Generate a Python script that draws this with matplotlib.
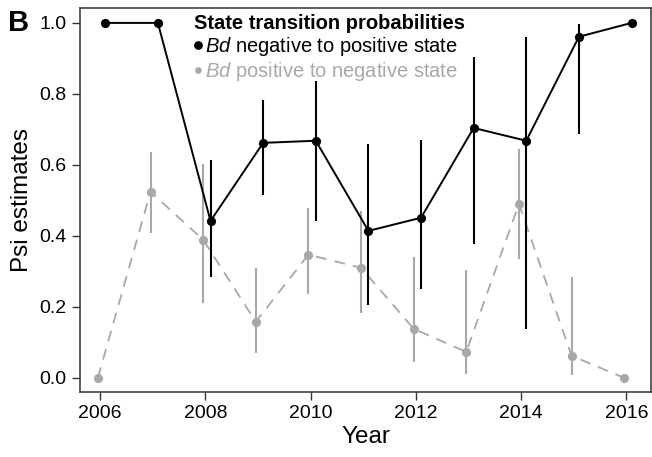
import matplotlib

matplotlib.use("Agg")
import matplotlib.pyplot as plt  # noqa: E402
import numpy as np  # noqa: E402
from matplotlib.lines import Line2D  # noqa: E402

plt.rcParams["font.family"] = ["Liberation Sans", "DejaVu Sans"]
plt.rcParams["mathtext.fontset"] = "custom"
plt.rcParams["mathtext.it"] = "Liberation Sans:italic"
plt.rcParams["mathtext.rm"] = "Liberation Sans"

years = np.arange(2006, 2017)

# Bd negative -> positive (psi estimate with 95% CI)
neg_pos = [1.0, 1.0, 0.442, 0.662, 0.668, 0.414, 0.451, 0.704, 0.668, 0.961, 1.0]
neg_pos_lo = [np.nan, np.nan, 0.285, 0.515, 0.442, 0.206, 0.250, 0.377, 0.138, 0.687, np.nan]
neg_pos_hi = [np.nan, np.nan, 0.614, 0.783, 0.837, 0.659, 0.670, 0.904, 0.961, 0.997, np.nan]

# Bd positive -> negative
pos_neg = [0.0, 0.524, 0.389, 0.158, 0.347, 0.310, 0.138, 0.073, 0.490, 0.062, 0.0]
pos_neg_lo = [np.nan, 0.408, 0.211, 0.070, 0.236, 0.183, 0.045, 0.011, 0.335, 0.008, np.nan]
pos_neg_hi = [np.nan, 0.637, 0.602, 0.310, 0.478, 0.470, 0.341, 0.304, 0.645, 0.285, np.nan]

BLACK = "black"
GREY = "#a8a8a8"

fig = plt.figure(figsize=(6.52, 4.57), dpi=100)
ax = fig.add_axes([0.1227, 0.1422, 0.8758, 0.8403])

x_np = years + 0.1
x_pn = years - 0.04

ax.vlines(x_pn, pos_neg_lo, pos_neg_hi, color=GREY, lw=1.5, zorder=2)
ax.plot(x_pn, pos_neg, color=GREY, lw=1.3, ls=(0, (6, 4.5)), zorder=2)
ax.plot(x_pn, pos_neg, "o", color=GREY, ms=6.6, mec="none", zorder=3)

ax.vlines(x_np, neg_pos_lo, neg_pos_hi, color=BLACK, lw=1.5, zorder=4)
ax.plot(x_np, neg_pos, color=BLACK, lw=1.4, zorder=4)
ax.plot(x_np, neg_pos, "o", color=BLACK, ms=6.6, mec="none", zorder=5)

ax.set_xlim(2005.62, 2016.47)
ax.set_ylim(-0.04, 1.042)
ax.set_xticks(np.arange(2006, 2017, 2))
ax.set_yticks(np.arange(0, 1.01, 0.2))
ax.yaxis.set_major_formatter(matplotlib.ticker.FormatStrFormatter("%.1f"))
ax.tick_params(direction="out", length=5.5, width=1, color="#333333",
               labelsize=14, pad=4)
for sp in ax.spines.values():
    sp.set_color("#333333")
    sp.set_linewidth(1.1)

ax.set_xlabel("Year", fontsize=17.5, labelpad=3)
ax.set_ylabel("Psi estimates", fontsize=17.5, labelpad=5)

handles = [
    Line2D([], [], ls="none", marker="o", ms=6.3, color=BLACK, mec="none"),
    Line2D([], [], ls="none", marker="o", ms=4.8, color=GREY, mec="none"),
]
labels = [r"$\it{Bd}$ negative to positive state",
          r"$\it{Bd}$ positive to negative state"]
leg = ax.legend(handles, labels, title="State transition probabilities",
                loc="upper left", bbox_to_anchor=(0.2, 0.985), frameon=False,
                fontsize=14.5, title_fontproperties={"weight": "bold", "size": 14.5},
                alignment="left", handlelength=0.35, handletextpad=0.2,
                labelspacing=0.1, borderpad=0, borderaxespad=0,
                labelcolor="linecolor")

fig.text(0.012, 0.932, "B", fontsize=21, fontweight="bold")

fig.savefig("out.png", dpi=100)
